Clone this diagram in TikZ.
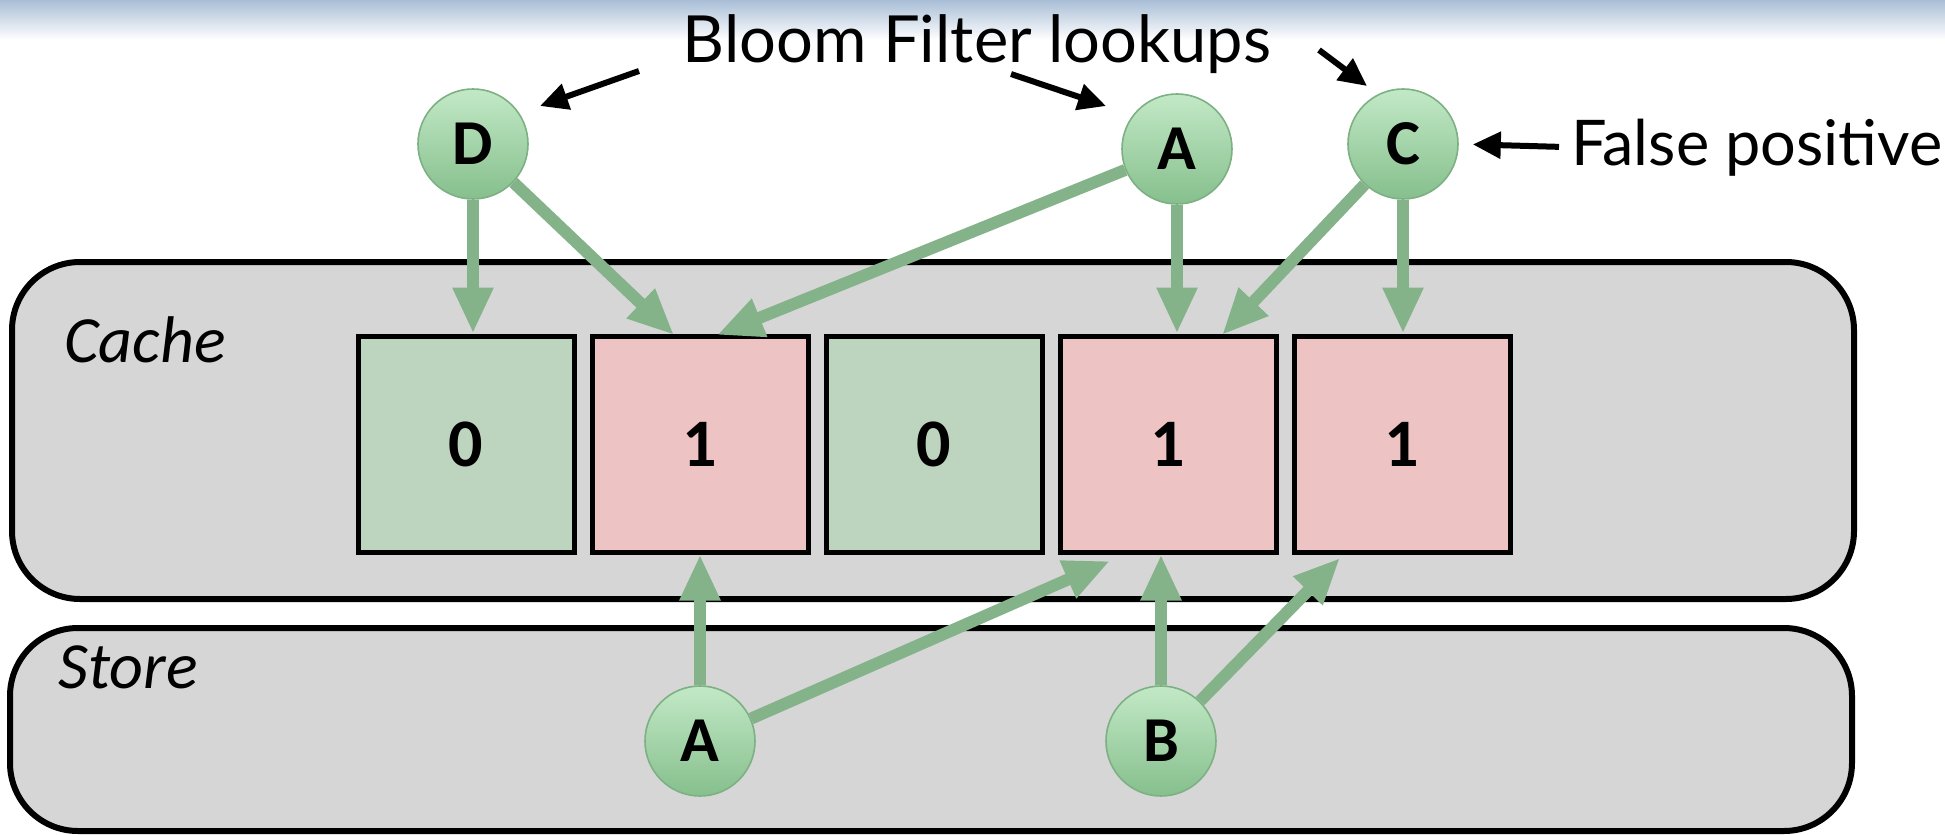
\documentclass[tikz,border=0pt]{standalone}
\usepackage{fontspec}
\setmainfont{Carlito}
\newfontfamily\gill{Lato}
\usetikzlibrary{arrows.meta}
\definecolor{topblue}{HTML}{A9BED6}
\definecolor{garrow}{HTML}{84B38A}
\definecolor{cgreen}{HTML}{BDD5BE}
\definecolor{cred}{HTML}{EEC3C4}
\definecolor{boxgray}{HTML}{D6D6D6}
\definecolor{circtop}{HTML}{C2E9C6}
\definecolor{circbot}{HTML}{86BF8D}
\definecolor{circborder}{HTML}{7DB083}
\tikzset{
  cell/.style={draw=black, line width=2.5pt, minimum width=108pt, minimum height=108pt, inner sep=0pt, font=\fontsize{34}{40}\selectfont\bfseries},
  circ/.style={circle, draw=circborder, line width=0.8pt, top color=circtop, bottom color=circbot, minimum size=55pt, inner sep=0pt, font=\fontsize{32}{38}\selectfont\bfseries},
  bigbox/.style={draw=black, line width=3pt, fill=boxgray, rounded corners=34pt, inner sep=0pt},
  garr/.style={draw=garrow, line width=6pt, -{Triangle[length=23pt,width=19pt]}},
  barr/.style={draw=black, line width=3pt, -{Triangle[length=14pt,width=13pt]}},
  boxlabel/.style={anchor=base west, inner sep=0pt, font=\fontsize{33}{40}\selectfont\itshape},
}
\begin{document}
\begin{tikzpicture}[x=0.5pt,y=-0.5pt]
\useasboundingbox (0,0) rectangle (1945,835);
\shade[top color=topblue, bottom color=white] (0,0) rectangle (1945,40);

% boxes
\node[bigbox, minimum width=921pt, minimum height=168.5pt] (cache) at (933,430.5) {};
\node[bigbox, minimum width=921pt, minimum height=101.5pt] (store) at (931,729.5) {};
\node[boxlabel] (cachelbl) at (64,362) {Cache};
\node[boxlabel] (storelbl) at (58,688) {Store};

% cells
\node[cell, fill=cgreen] (c1) at (466,444) {0};
\node[cell, fill=cred]   (c2) at (700,444) {1};
\node[cell, fill=cgreen] (c3) at (934,444) {0};
\node[cell, fill=cred]   (c4) at (1168,444) {1};
\node[cell, fill=cred]   (c5) at (1402,444) {1};

% lookup circles
\node[circ] (D) at (473,144) {D};
\node[circ] (A) at (1177,149) {A};
\node[circ] (C) at (1403,144) {C};
% store circles
\node[circ] (SA) at (700,741) {A};
\node[circ] (SB) at (1161,741) {B};

% labels
\node[anchor=base, inner sep=0pt, font=\gill\fontsize{32.5}{38}\selectfont] (bloom) at (977,62) {Bloom Filter lookups};
\node[anchor=base west, inner sep=0pt, font=\gill\fontsize{31.5}{38}\selectfont] (fp) at (1571,165) {False positive};

% black arrows
\coordinate (b1s) at (639,71);  \coordinate (b1e) at (540,106);
\coordinate (b2s) at (1011,74); \coordinate (b2e) at (1106,106);
\coordinate (b3s) at (1319,50); \coordinate (b3e) at (1367,86);
\draw[barr] (b1s) -- (b1e);
\draw[barr] (b2s) -- (b2e);
\draw[barr] (b3s) -- (b3e);
\draw[barr, shorten <=6pt, shorten >=7pt] (fp.west) -- (C.east);

% green arrows, lookups
\coordinate (t2a) at (674,335);
\coordinate (t2b) at (717,335);
\coordinate (t4a) at (1222,335);
\draw[garr] (D.south) -- (D.south |- c1.north);
\draw[garr] (D) -- (t2a);
\draw[garr] (A) -- (t2b);
\draw[garr] (A.south) -- (A.south |- c4.north);
\draw[garr] (C) -- (t4a);
\draw[garr] (C.south) -- (C.south |- c5.north);

% green arrows, store
\coordinate (u4a) at (1110,561);
\coordinate (u5a) at (1340,558);
\draw[garr] (SA.north) -- (SA.north |- c2.south);
\draw[garr] (SA) -- (u4a);
\draw[garr] (SB.north) -- (SB.north |- c4.south);
\draw[garr] (SB) -- (u5a);
\end{tikzpicture}
\end{document}
